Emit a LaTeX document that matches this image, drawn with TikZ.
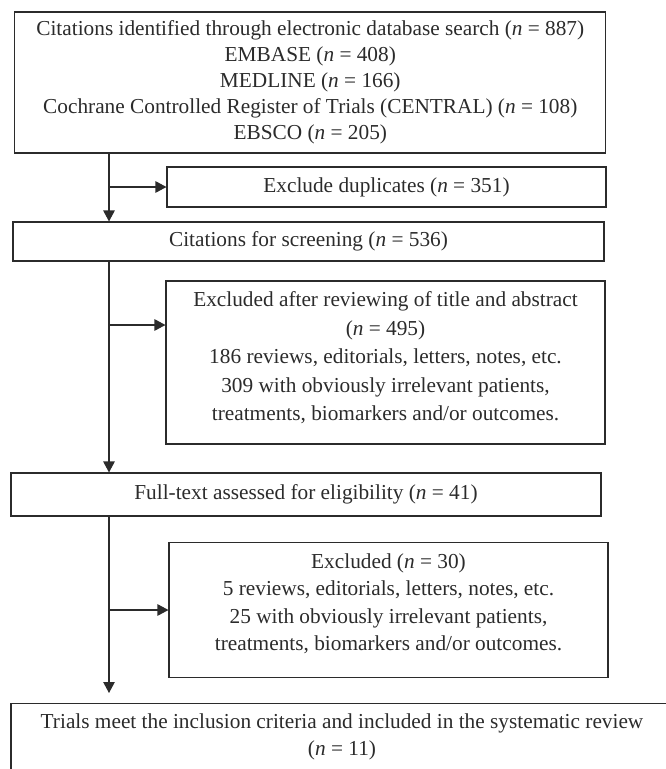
\documentclass[tikz,border=0pt]{standalone}
\usepackage{fontspec}
\setmainfont{Liberation Serif}
\usetikzlibrary{arrows.meta,calc}
\definecolor{ink}{HTML}{2B2B2B}
\tikzset{
  boxnode/.style={draw=ink, line width=1.1pt, inner sep=0pt, align=center, text=ink,
    font=\fontsize{21.3}{27}\selectfont},
  txtnode/.style={inner sep=0pt, align=center, text=ink, font=\fontsize{21.3}{27}\selectfont},
  flow/.style={draw=ink, line width=1.1pt, -{Triangle[length=11pt,width=11.5pt]}},
}
\newcommand{\nn}{\textit{n}}
\begin{document}
\begin{tikzpicture}[x=1pt,y=-1pt]
\useasboundingbox (0,0) rectangle (666,769);
\clip (0,0) rectangle (666,769);
\coordinate (trunk) at (109,0);

\node[boxnode, minimum width=591pt, minimum height=141pt,
      font=\fontsize{21.3}{26}\selectfont] (b1) at (310.3,82.5)
  {Citations identified through electronic database search (\nn{} = 887)\\
   EMBASE (\nn{} = 408)\\
   MEDLINE (\nn{} = 166)\\
   Cochrane Controlled Register of Trials (CENTRAL) (\nn{} = 108)\\
   EBSCO (\nn{} = 205)};

\node[boxnode, minimum width=439pt, minimum height=40pt] (dup) at (386.5,187)
  {Exclude duplicates (\nn{} = 351)};

\node[boxnode, minimum width=591pt, minimum height=39pt] (screen) at (308.5,241.5)
  {Citations for screening (\nn{} = 536)};

\node[boxnode, minimum width=439pt, minimum height=163pt] (ex1) at (385.5,362.5) {};
\node[txtnode, font=\fontsize{21.3}{28.5}\selectfont] (ex1t) at (385.5,358)
  {Excluded after reviewing of title and abstract\\
   (\nn{} = 495)\\
   186 reviews, editorials, letters, notes, etc.\\
   309 with obviously irrelevant patients,\\
   treatments, biomarkers and/or outcomes.};

\node[boxnode, minimum width=590pt, minimum height=43pt] (full) at (306,494.5)
  {Full-text assessed for eligibility (\nn{} = 41)};

\node[boxnode, minimum width=439pt, minimum height=135.5pt] (ex2) at (388.5,610) {};
\node[txtnode, font=\fontsize{21.3}{27.5}\selectfont] (ex2t) at (388.5,603.5)
  {Excluded (\nn{} = 30)\\
   5 reviews, editorials, letters, notes, etc.\\
   25 with obviously irrelevant patients,\\
   treatments, biomarkers and/or outcomes.};

\node[boxnode, minimum width=662pt, minimum height=100pt, anchor=north] (final) at (342,703) {};
\node[txtnode] (finalt) at (342,736.5)
  {Trials meet the inclusion criteria and included in the systematic review\\
   (\nn{} = 11)};

% connectors
\draw[flow] (b1.south -| trunk) -- (screen.north -| trunk);
\draw[flow] (dup.west -| trunk) -- (dup.west);
\draw[flow] (screen.south -| trunk) -- (full.north -| trunk);
\draw[flow] ([yshift=37.5pt]ex1.west -| trunk) -- ([yshift=37.5pt]ex1.west);
\draw[flow, shorten >=10pt] (full.south -| trunk) -- (final.north -| trunk);
\draw[flow] (ex2.west -| trunk) -- (ex2.west);
\end{tikzpicture}
\end{document}
